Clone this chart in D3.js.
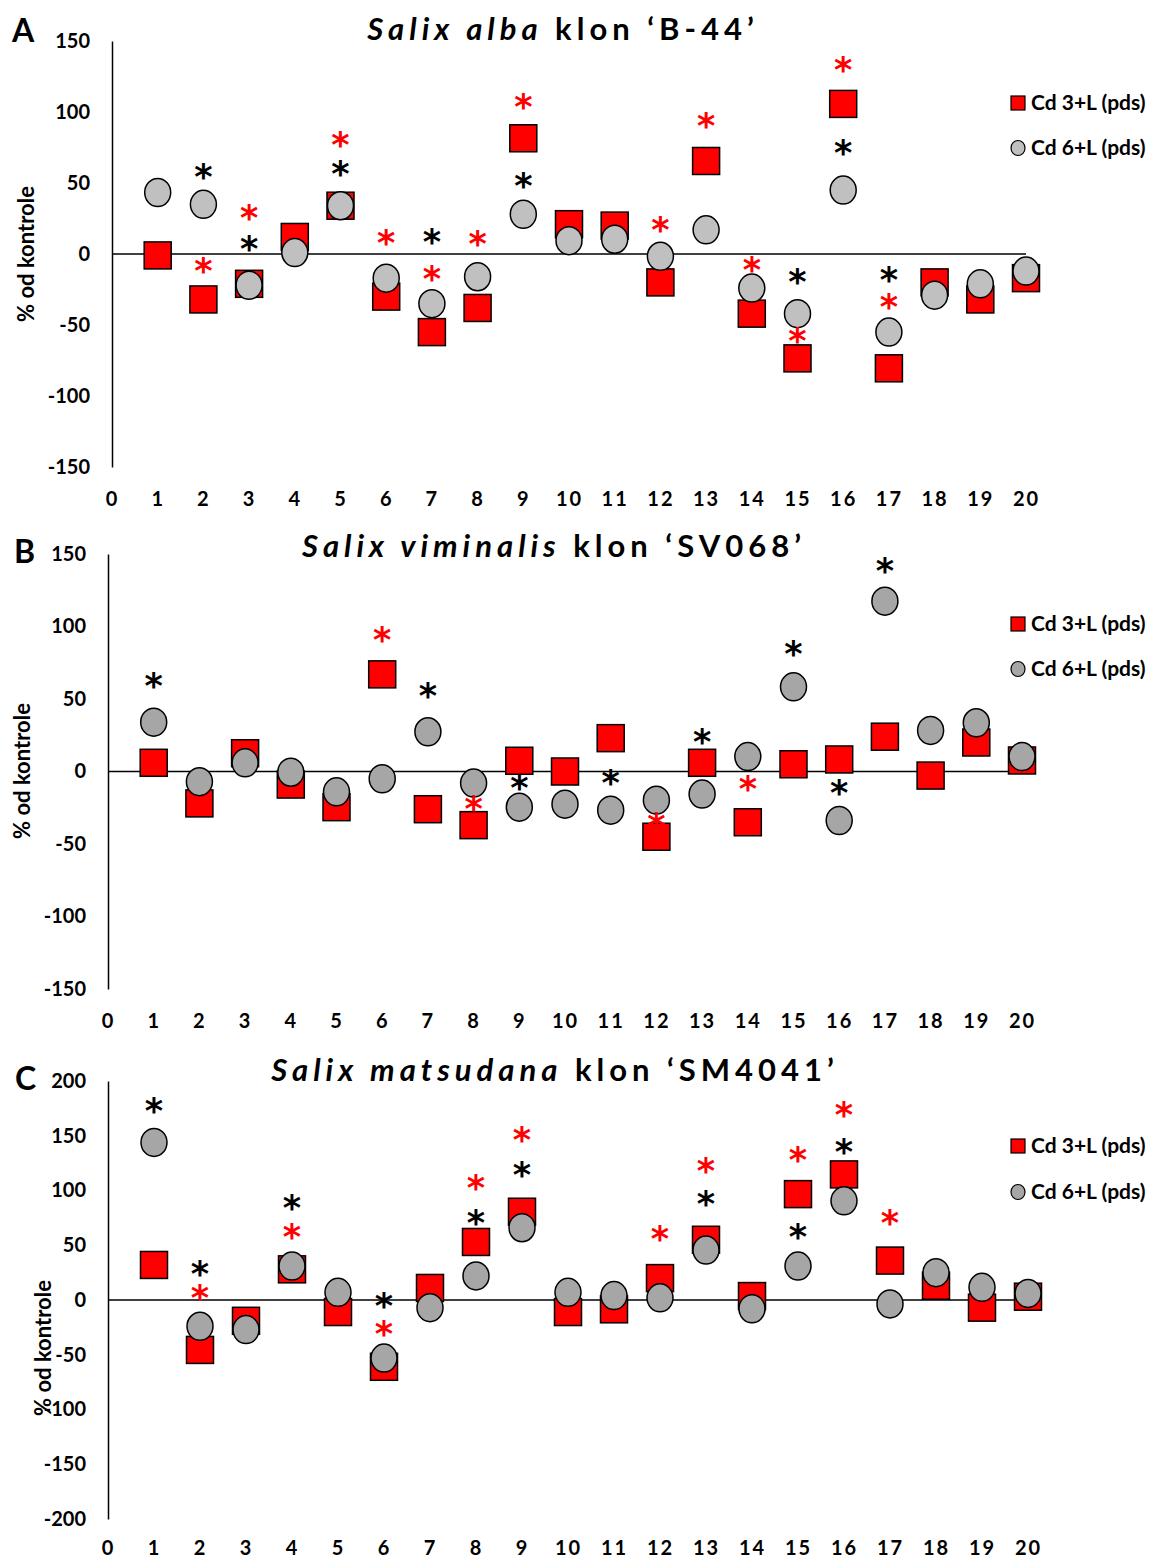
<!DOCTYPE html>
<html><head><meta charset="utf-8">
<script src="https://cdn.jsdelivr.net/npm/d3@7"></script>
<style>
body{margin:0;background:#fff;}
text{font-family:Lato,"Open Sans",sans-serif;font-weight:700;}
</style></head>
<body><svg id="c" width="1155" height="1559"></svg>
<script>
// ---------- DATA ----------
const categories = [1,2,3,4,5,6,7,8,9,10,11,12,13,14,15,16,17,18,19,20];
const xTickLabels = [0,1,2,3,4,5,6,7,8,9,10,11,12,13,14,15,16,17,18,19,20];
const yTicksAB = [-150,-100,-50,0,50,100,150];
const yTicksC = [-200,-150,-100,-50,0,50,100,150,200];
const seriesNames = ["Cd 3+L (pds)", "Cd 6+L (pds)"];

const cd3A = [-1,-32,-21,12,34,-30,-55,-38,81.5,21,20,-20,65.5,-42,-73.5,105.7,-80.5,-20,-32,-17];
const cd6A = [43.3,35,-22,1,34,-17,-35,-16,28,9.4,10.4,-1.6,17,-24,-42,45,-55,-29,-21,-12];
const starsBlackA = [[2,57.5],[3,6.8],[5,59.3],[7,11.8],[9,51],[15,-16.7],[16,74],[17,-15]];
const starsRedA = [[2,-9],[3,28.7],[5,80],[6,10.8],[7,-14.8],[8,9.9],[9,106.4],[12,20.3],[13,93.5],[14,-7.8],[15,-58],[16,133],[17,-34.4]];

const cd3B = [6,-22,12.6,-9,-24.6,67,-26,-37,7.4,0,23,-45,6,-35,5,8.3,24,-2.8,20,7.6];
const cd6B = [34,-7,6,-0.5,-14,-5,27.4,-8,-24.6,-22.5,-26.7,-19.8,-15.6,10.3,58.4,-33.8,117.5,28.3,33.6,10.3];
const starsBlackB = [[1,62],[7,55],[9,-8],[11,-4.6],[13,23.7],[15,84.4],[16,-11.5],[17,141.4]];
const starsRedB = [[6,93.6],[8,-23],[12,-34.5],[14,-8.7]];

const cd3C = [32,-45.6,-19,28,-11,-61,11,53,80.6,-11,-8.5,20,55,3.6,96.7,114.7,36,13,-7,3];
const cd6C = [143.9,-24,-27,31,7,-53,-7,22,66,7,4,2,45.6,-8,31,90.6,-3.6,25,11.6,6];
const starsBlackC = [[1,177],[2,28],[4,88],[6,-1.5],[8,74.5],[9,118.6],[13,91.3],[15,61.4],[16,139.3]];
const starsRedC = [[2,6],[4,61.4],[6,-27.4],[8,106],[9,150.6],[12,60],[13,121.7],[15,132.3],[16,172.8],[17,74.5]];

// ---------- LAYOUT ----------
const panels = [
  {letter:"A", species:"Salix alba", clone:" klon \u2018B-44\u2019", cd3:cd3A, cd6:cd6A, sb:starsBlackA, sr:starsRedA,
   yTicks:yTicksAB, ymax:150, x0:112, x20:1026, yTop:41, yBot:467, xLabY:506, titleX:563, titleY:40,
   letterX:12, letterY:42, ylabX:25, ylabY:254, legY1:103, legY2:148, circleFill:"#C0C0C0"},
  {letter:"B", species:"Salix viminalis", clone:" klon \u2018SV068\u2019", cd3:cd3B, cd6:cd6B, sb:starsBlackB, sr:starsRedB,
   yTicks:yTicksAB, ymax:150, x0:108, x20:1022, yTop:554, yBot:989, xLabY:1028, titleX:554, titleY:557,
   letterX:14, letterY:563, ylabX:21, ylabY:771, legY1:624, legY2:669, circleFill:"#A6A6A6"},
  {letter:"C", species:"Salix matsudana", clone:" klon \u2018SM4041\u2019", cd3:cd3C, cd6:cd6C, sb:starsBlackC, sr:starsRedC,
   yTicks:yTicksC, ymax:200, x0:108, x20:1028, yTop:1081, yBot:1519, xLabY:1555, titleX:555, titleY:1081,
   letterX:15, letterY:1090, ylabX:42, ylabY:1348, circleFill:"#A6A6A6", legY1:1146, legY2:1192}
];

const svg = d3.select("#c");
const SQ = 27, R = 13.5;

panels.forEach(p => {
  const g = svg.append("g");
  const x = d3.scaleLinear().domain([0,20]).range([p.x0, p.x20]);
  const y = d3.scaleLinear().domain([-p.ymax, p.ymax]).range([p.yBot, p.yTop]);

  // y axis
  const ya = g.append("g").attr("transform", `translate(${p.x0},0)`)
    .call(d3.axisLeft(y).tickValues(p.yTicks).tickSize(0).tickSizeOuter(0).tickPadding(22).tickFormat(d => String(d)));
  ya.select(".domain").attr("stroke","#000").attr("stroke-width",1.5);
  ya.selectAll("text").attr("font-size",20).attr("fill","#000")
    .style("font-family","Lato,sans-serif").style("font-weight",700);

  // x labels
  const xa = g.append("g").attr("transform", `translate(0,${p.xLabY})`)
    .call(d3.axisBottom(x).tickValues(xTickLabels).tickSize(0).tickFormat(d => String(d)));
  xa.select(".domain").remove();
  xa.selectAll("text").attr("y",0).attr("dy",0).attr("font-size",20).attr("fill","#000")
    .style("letter-spacing","2px")
    .style("font-family","Lato,sans-serif").style("font-weight",700);

  // zero line
  g.append("line").attr("x1",x(0)).attr("x2",x(20)).attr("y1",y(0)).attr("y2",y(0))
    .attr("stroke","#000").attr("stroke-width",1.5);

  // squares
  g.selectAll("rect.cd3").data(p.cd3).join("rect").attr("class","cd3")
    .attr("x",(d,i)=>x(categories[i])-SQ/2).attr("y",d=>y(d)-SQ/2)
    .attr("width",SQ).attr("height",SQ).attr("fill","#FF0000")
    .attr("stroke","#000").attr("stroke-width",1.5);
  // circles
  g.selectAll("ellipse.cd6").data(p.cd6).join("ellipse").attr("class","cd6")
    .attr("cx",(d,i)=>x(categories[i])).attr("cy",d=>y(d))
    .attr("rx",R-0.5).attr("ry",R+0.5).attr("fill",p.circleFill)
    .attr("stroke","#000").attr("stroke-width",1.5);

  // stars
  const starFS = 35;
  const drawStars = (arr, col) => g.selectAll(null).data(arr).join("text")
    .attr("x",d=>x(d[0])).attr("y",d=>y(d[1]) + starFS*0.47)
    .attr("text-anchor","middle").attr("font-size",starFS).attr("fill",col)
    .style("font-family","'DejaVu Sans',sans-serif").style("font-weight",700).text("*");
  drawStars(p.sb, "#000");
  drawStars(p.sr, "#FF0000");

  // title
  const t = g.append("text").attr("x",p.titleX).attr("y",p.titleY).attr("text-anchor","middle")
    .attr("font-size",31).style("letter-spacing","5px").attr("fill","#000");
  t.append("tspan").style("font-style","italic").text(p.species);
  t.append("tspan").text(p.clone);

  // panel letter
  g.append("text").attr("x",p.letterX).attr("y",p.letterY).attr("font-size",32).attr("fill","#000").text(p.letter);

  // y axis title
  g.append("text").attr("transform",`translate(${p.ylabX},${p.ylabY}) rotate(-90)`)
    .attr("text-anchor","middle").attr("dominant-baseline","central")
    .attr("font-size",22).attr("fill","#000").text("% od kontrole");

  // legend
  const lx = 1018;
  g.append("rect").attr("x",lx-7).attr("y",p.legY1-7).attr("width",14).attr("height",14)
    .attr("fill","#FF0000").attr("stroke","#000").attr("stroke-width",1.2);
  g.append("text").attr("x",lx+13).attr("y",p.legY1+7).attr("font-size",21).attr("fill","#000").text(seriesNames[0]);
  g.append("ellipse").attr("cx",lx).attr("cy",p.legY2).attr("rx",7).attr("ry",7.5)
    .attr("fill",p.circleFill).attr("stroke","#000").attr("stroke-width",1.2);
  g.append("text").attr("x",lx+13).attr("y",p.legY2+7).attr("font-size",21).attr("fill","#000").text(seriesNames[1]);
});
</script></body></html>
